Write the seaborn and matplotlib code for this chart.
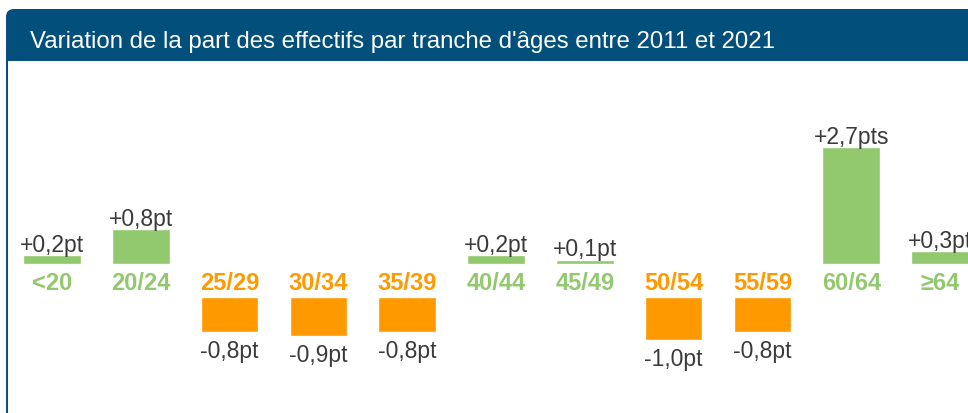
import matplotlib
matplotlib.use("Agg")
import matplotlib.pyplot as plt
from matplotlib.patches import FancyBboxPatch, Rectangle
from matplotlib.lines import Line2D
import matplotlib.font_manager as fm
import seaborn as sns
import pandas as pd

# Age bands and change in share of staff (percentage points), 2011 -> 2021
categories = ["<20", "20/24", "25/29", "30/34", "35/39", "40/44",
              "45/49", "50/54", "55/59", "60/64", "≥64"]
values = [0.2, 0.8, -0.8, -0.9, -0.8, 0.2, 0.1, -1.0, -0.8, 2.7, 0.3]
title = "Variation de la part des effectifs par tranche d'âges entre 2011 et 2021"

GREEN = "#92C86E"
ORANGE = "#FF9900"
HEADER = "#024F7B"
TEXT = "#3A3A3A"

sns.set_theme(style="white")
names = {f.name for f in fm.fontManager.ttflist}
narrow = "Liberation Sans Narrow" if "Liberation Sans Narrow" in names else None
plt.rcParams["font.family"] = ["Liberation Sans", "DejaVu Sans"]

df = pd.DataFrame({"tranche": categories, "variation": values})
pos = df[df["variation"] > 0]
neg = df[df["variation"] < 0]

W, H = 968, 414
fig = plt.figure(figsize=(W / 100, H / 100), dpi=100)
fig.patch.set_facecolor("white")

# Header band with rounded top-left corner and the panel's left border
fig.patches.append(FancyBboxPatch((6, H - 85), W + 40, 75,
                                  boxstyle="round,pad=0,rounding_size=8",
                                  facecolor=HEADER, edgecolor="none",
                                  transform=None, figure=fig, zorder=0))
fig.patches.append(Rectangle((7.5, 0), W, H - 62,
                             facecolor="white", edgecolor="none",
                             transform=None, figure=fig, zorder=0.5))
fig.lines.append(Line2D([6.5, 6.5], [0, H - 55], color=HEADER, linewidth=1.4,
                        transform=None, figure=fig, zorder=0.5))

PX_PER_PT = 43.4
zero_top = 265      # pixel row of the zero line for gains
zero_bot = 298      # pixel row where losses start
header_bottom = 62

x_lo = -52 / 88.8
x_hi = (W - 52) / 88.8

ax_top = fig.add_axes([0, (H - zero_top) / H, 1, (zero_top - header_bottom) / H])
ax_bot = fig.add_axes([0, 0, 1, (H - zero_bot) / H])
ax_top.set_zorder(2)
ax_bot.set_zorder(2)

sns.barplot(data=pos, x="tranche", y="variation", order=categories,
            color=GREEN, saturation=1, width=0.65, ax=ax_top)
sns.barplot(data=neg, x="tranche", y="variation", order=categories,
            color=ORANGE, saturation=1, width=0.65, ax=ax_bot)

ax_top.set_ylim(0, (zero_top - header_bottom) / PX_PER_PT)
ax_bot.set_ylim(-(H - zero_bot) / PX_PER_PT, 0)


def fmt(v):
    s = f"{v:+.1f}".replace(".", ",")
    return s + ("pts" if abs(v) >= 2 else "pt")


for ax in (ax_top, ax_bot):
    ax.set_xlim(x_lo, x_hi)
    ax.patch.set_visible(False)
    ax.set_xlabel("")
    ax.set_ylabel("")
    ax.set_yticks([])
    for sp in ax.spines.values():
        sp.set_visible(False)

for i, v in enumerate(values):
    if v > 0:
        ax_top.annotate(fmt(v), (i, v), xytext=(0, 3), textcoords="offset points",
                        ha="center", va="baseline", fontsize=16.5, color=TEXT,
                        annotation_clip=False)
    else:
        ax_bot.annotate(fmt(v), (i, v), xytext=(0, -18), textcoords="offset points",
                        ha="center", va="baseline", fontsize=16.5, color=TEXT,
                        annotation_clip=False)

# Age-band labels sit between gains and losses
ax_top.set_xticks(range(len(categories)))
ax_top.set_xticklabels(categories, fontsize=17, fontweight="bold")
ax_top.tick_params(axis="x", length=0, pad=5)
for lbl, v in zip(ax_top.get_xticklabels(), values):
    lbl.set_color(GREEN if v > 0 else ORANGE)
ax_bot.set_xticks([])

if narrow:
    fig.text(30 / W, (H - 48) / H, title, color="white", fontsize=21,
             family=[narrow, "DejaVu Sans"], ha="left", va="baseline")
else:
    fig.text(30 / W, (H - 48) / H, title, color="white", fontsize=17.3,
             ha="left", va="baseline")

fig.savefig("out.png", dpi=100, facecolor="white")
